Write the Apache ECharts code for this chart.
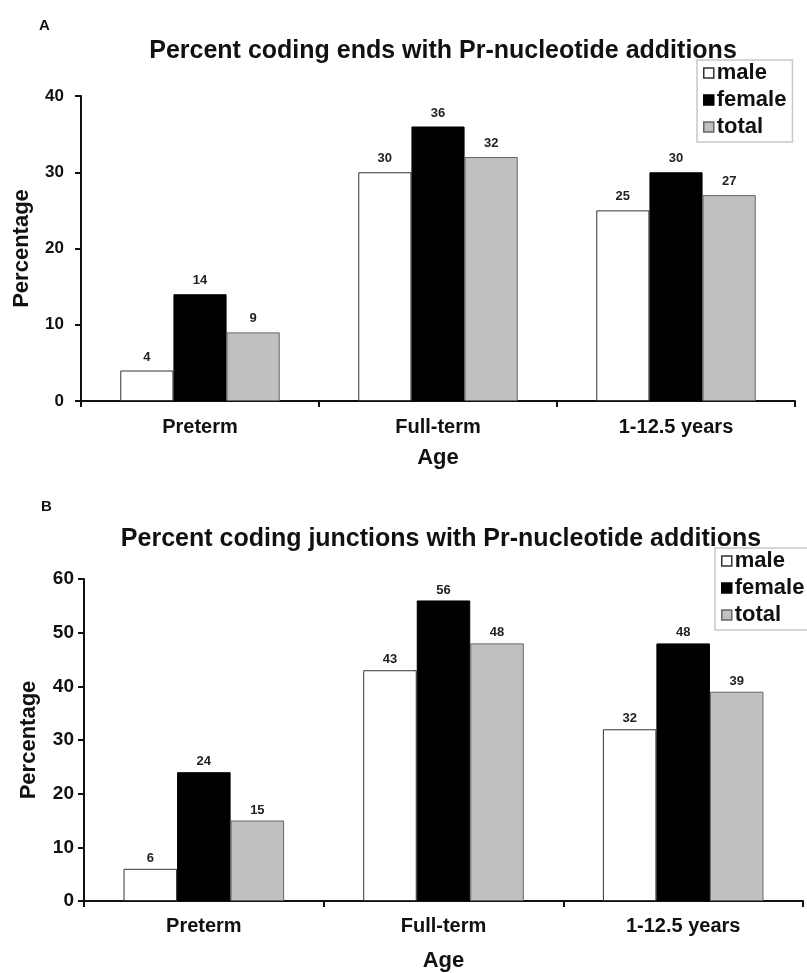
<!DOCTYPE html>
<html><head><meta charset="utf-8">
<script src="https://cdn.jsdelivr.net/npm/echarts@6/dist/echarts.min.js"></script>
<style>html,body{margin:0;padding:0;background:#fff}#c{width:807px;height:973px}</style>
</head><body><div id="c"></div>
<script>
const categories = ['Preterm', 'Full-term', '1-12.5 years'];
const seriesNames = ['male', 'female', 'total'];
const endsMale = [4, 30, 25];
const endsFemale = [14, 36, 30];
const endsTotal = [9, 32, 27];
const juncMale = [6, 43, 32];
const juncFemale = [24, 56, 48];
const juncTotal = [15, 48, 39];
const titleA = 'Percent coding ends with Pr-nucleotide additions';
const titleB = 'Percent coding junctions with Pr-nucleotide additions';

const FONT = '"Liberation Sans", Arial, sans-serif';
const styles = [
  {color: '#ffffff', borderColor: '#333', borderWidth: 1},
  {color: '#000000', borderColor: '#000', borderWidth: 1},
  {color: '#c0c0c0', borderColor: '#666', borderWidth: 1}
];
function mkSeries(idx, arrs, dist) {
  return arrs.map((d, i) => ({
    name: seriesNames[i], type: 'bar', xAxisIndex: idx, yAxisIndex: idx,
    data: d, barGap: '0%', barCategoryGap: '33%',
    itemStyle: styles[i],
    label: {show: true, position: 'top', fontFamily: FONT, fontWeight: 'bold', fontSize: 13, color: '#222', distance: dist}
  }));
}
function xAx(idx, margin, nameGap) {
  return {
    type: 'category', gridIndex: idx, data: categories,
    name: 'Age', nameLocation: 'middle', nameGap: nameGap,
    nameTextStyle: {fontFamily: FONT, fontWeight: 'bold', fontSize: 22, color: '#111'},
    axisLine: {lineStyle: {color: '#111', width: 2}},
    axisTick: {show: true, alignWithLabel: false, length: 6, inside: false, lineStyle: {color: '#111', width: 2}},
    axisLabel: {fontFamily: FONT, fontWeight: 'bold', fontSize: 20, color: '#111', margin: margin}
  };
}
function yAx(idx, max, margin, nameGap, fs) {
  return {
    type: 'value', gridIndex: idx, min: 0, max: max, interval: 10,
    name: 'Percentage', nameLocation: 'middle', nameGap: nameGap, nameRotate: 90,
    nameTextStyle: {fontFamily: FONT, fontWeight: 'bold', fontSize: 22, color: '#111'},
    axisLine: {show: true, lineStyle: {color: '#111', width: 2}},
    axisTick: {show: true, length: 6, lineStyle: {color: '#111', width: 2}},
    splitLine: {show: false},
    axisLabel: {fontFamily: FONT, fontWeight: 'bold', fontSize: fs, color: '#111', margin: margin}
  };
}
function mkLegend(left, top) {
  return {
    data: seriesNames, orient: 'vertical', left: left, top: top, icon: 'rect',
    itemWidth: 10, itemHeight: 10, itemGap: 5, itemStyle: {borderWidth: 1.5},
    padding: [2, 6, 4, 6], borderColor: '#c8c8c8', borderWidth: 1.5,
    textStyle: {fontFamily: FONT, fontWeight: 'bold', fontSize: 22, lineHeight: 22, color: '#111', padding: [0, 0, 0, -2]}
  };
}
const chart = echarts.init(document.getElementById('c'));
chart.setOption({
  animation: false,
  backgroundColor: '#fff',
  title: [
    {text: 'A', left: 34, top: 13, textStyle: {fontFamily: FONT, fontWeight: 'bold', fontSize: 15, color: '#111'}},
    {text: titleA, left: 438, textAlign: 'center', top: 34, textStyle: {fontFamily: FONT, fontWeight: 'bold', fontSize: 25, color: '#111'}},
    {text: 'B', left: 36, top: 494, textStyle: {fontFamily: FONT, fontWeight: 'bold', fontSize: 15, color: '#111'}},
    {text: titleB, left: 436, textAlign: 'center', top: 522, textStyle: {fontFamily: FONT, fontWeight: 'bold', fontSize: 25, color: '#111'}}
  ],
  legend: [mkLegend(697, 60), mkLegend(715, 548)],
  grid: [
    {left: 81, right: 12, top: 96, height: 305},
    {left: 84, right: 4, top: 579, height: 323}
  ],
  xAxis: [xAx(0, 16, 46), xAx(1, 15, 49)],
  yAxis: [yAx(0, 40, 17, 48, 17), yAx(1, 60, 10, 44, 19)],
  series: [...mkSeries(0, [endsMale, endsFemale, endsTotal], 7), ...mkSeries(1, [juncMale, juncFemale, juncTotal], 4)]
});
</script></body></html>
